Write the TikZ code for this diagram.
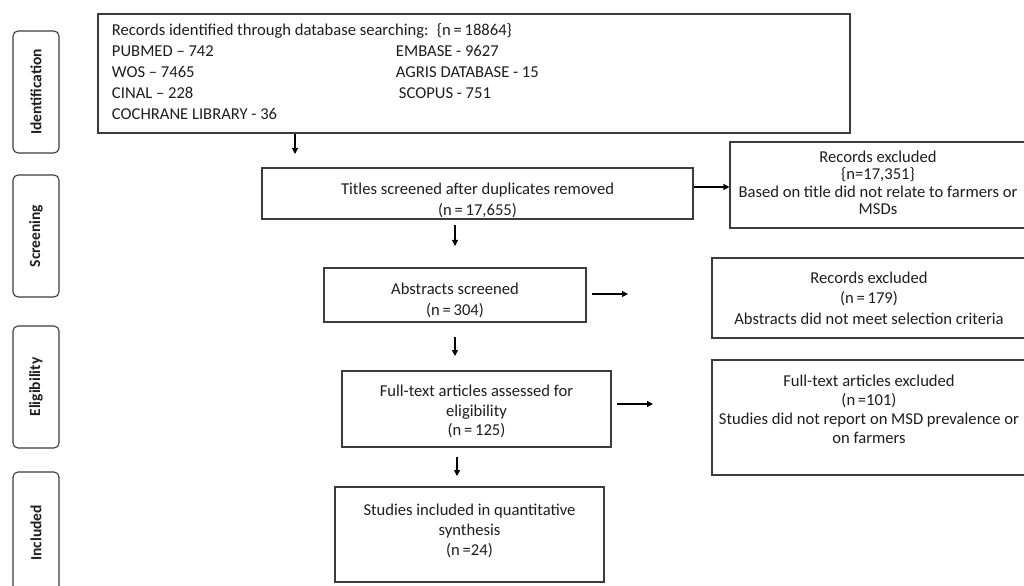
\documentclass[tikz,border=0pt]{standalone}
\usepackage{fontspec}
\setmainfont{Carlito}
\usetikzlibrary{arrows.meta}
\definecolor{bcol}{HTML}{3C3C3C}
\definecolor{tcol}{HTML}{1E1E1E}
\newcommand\stxt[3]{\raisebox{#1}[\height][\depth]{\def\arraystretch{1}\fontsize{16.6bp}{#2}\selectfont\begin{tabular}{@{}c@{}}#3\end{tabular}}}
\begin{document}
\begin{tikzpicture}[x=1bp,y=-1bp,
  box/.style={draw=bcol, line width=1.1bp, inner sep=0pt, text=tcol, font=\fontsize{16.6bp}{20bp}\selectfont},
  stage/.style={draw=bcol, line width=1.1bp, rounded corners=5bp, rotate=90,
    minimum width=122bp, minimum height=46bp, inner sep=0pt, text=tcol,
    font=\bfseries\fontsize{15.5bp}{18bp}\selectfont},
  arr/.style={draw=black, line width=1.1bp, -{Triangle[length=6bp,width=6bp]}}]
\useasboundingbox[fill=white] (0,0) rectangle (1024,586);

% stage labels
\node[stage] (sid) at (36,92) {Identification};
\node[stage] (sscr) at (36,236) {Screening};
\node[stage] (selig) at (36,387) {Eligibility};
\node[stage] (sinc) at (36,533) {Included};

% main boxes
\node[box, minimum width=752bp, minimum height=119bp] (top) at (474,73.5)
 {\makebox[724bp][l]{\fontsize{16.6bp}{21bp}\selectfont\def\arraystretch{1}%
  \begin{tabular}{@{}p{284bp}@{}l@{}}
  \multicolumn{2}{@{}l@{}}{Records identified through database searching:\enspace\{n\,=\,18864\}}\\
  PUBMED – 742 & EMBASE - 9627\\
  WOS – 7465 & AGRIS DATABASE - 15\\
  CINAL – 228 & \hspace{3bp}SCOPUS - 751\\
  COCHRANE LIBRARY - 36 & \\
  \end{tabular}}};

\node[box, minimum width=431bp, minimum height=51bp] (titles) at (477.5,193.5)
 {\stxt{-7bp}{21bp}{Titles screened after duplicates removed\\(n\,=\,17,655)}};
\node[box, minimum width=262bp, minimum height=54bp] (abs) at (455,295)
 {\stxt{-5.5bp}{21bp}{Abstracts screened\\(n\,=\,304)}};
\node[box, minimum width=269bp, minimum height=76bp] (full) at (476.5,409)
 {\stxt{-3.5bp}{19.5bp}{Full-text articles assessed for\\eligibility\\(n\,=\,125)}};
\node[box, minimum width=269bp, minimum height=95bp] (incl) at (469.5,534.5)
 {\stxt{3.5bp}{20bp}{Studies included in quantitative\\synthesis\\(n\,=24)}};

% exclusion boxes
\node[box, minimum width=296bp, minimum height=86bp] (ex1) at (878,185)
 {\stxt{0bp}{17.5bp}{Records excluded\\\{n=17,351\}\\Based on title did not relate to farmers or\\MSDs}};
\node[box, minimum width=314bp, minimum height=80bp] (ex2) at (869,298)
 {\stxt{-2bp}{20bp}{Records excluded\\(n\,=\,179)\\Abstracts did not meet selection criteria}};
\node[box, minimum width=314bp, minimum height=115bp] (ex3) at (869,417.5)
 {\stxt{6bp}{19bp}{Full-text articles excluded\\(n\,=101)\\Studies did not report on MSD prevalence or\\on farmers}};

% connectors
\coordinate (a1e) at (295,154);
\draw[arr] (top.south -| a1e) -- (a1e);
\coordinate (a2y) at (0,187);
\draw[arr] (titles.east |- a2y) -- (ex1.west |- a2y);
\coordinate (a3s) at (455,225);
\coordinate (a3e) at (455,246);
\draw[arr] (a3s) -- (a3e);
\coordinate (a4s) at (592,294);
\coordinate (a4e) at (628,294);
\draw[arr] (a4s) -- (a4e);
\coordinate (a5s) at (455,337);
\coordinate (a5e) at (455,356);
\draw[arr] (a5s) -- (a5e);
\coordinate (a6s) at (617,404);
\coordinate (a6e) at (653,404);
\draw[arr] (a6s) -- (a6e);
\coordinate (a7s) at (457,457);
\coordinate (a7e) at (457,476);
\draw[arr] (a7s) -- (a7e);
\end{tikzpicture}
\end{document}
